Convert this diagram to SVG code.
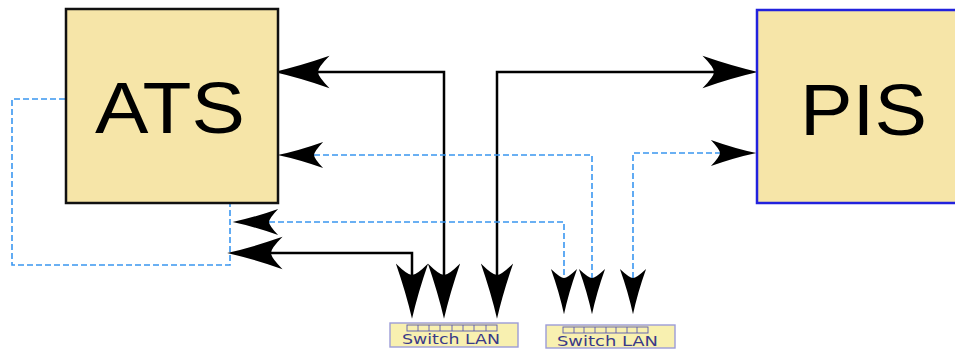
<svg xmlns="http://www.w3.org/2000/svg" width="955" height="349" viewBox="0 0 955 349">
<style>
.box{fill:#f6e5a8;stroke-width:2.5}
.big{font-family:"Liberation Sans",Arial,sans-serif;font-size:72px;fill:#000}
.blk{fill:none;stroke:#000;stroke-width:2.5}
.blu{fill:none;stroke:#3a96f0;stroke-width:1.6;stroke-dasharray:6,3}
.sw{fill:#f8f0b0;stroke:#9c9cd8;stroke-width:1.4}
.port{fill:#f8f0b0;stroke:#5a5ab0;stroke-width:0.9}
.swt{font-family:"DejaVu Sans",Verdana,sans-serif;font-size:14.5px;fill:#3a3a88}
</style>
<defs>
<marker id="ab" markerUnits="userSpaceOnUse" markerWidth="60" markerHeight="40" viewBox="-12 -16 52 32" refX="0" refY="0" orient="auto-start-reverse" overflow="visible">
<path d="M38,0 Q16,-5 -10,-14 Q0,-4 0,0 Q0,4 -10,14 Q16,5 38,0 Z" fill="#000"/>
</marker>
<marker id="as" markerUnits="userSpaceOnUse" markerWidth="50" markerHeight="30" viewBox="-10 -13 44 26" refX="0" refY="0" orient="auto-start-reverse" overflow="visible">
<path d="M32,0 Q13,-4 -8,-11.5 Q0,-3 0,0 Q0,3 -8,11.5 Q13,4 32,0 Z" fill="#000"/>
</marker>
</defs>
<rect width="955" height="349" fill="#fff"/>
<g id="connectors">
<path class="blu" d="M65,99 H12 V265 H230 V203"/>
<path class="blk" d="M318,72 H444 V275" marker-start="url(#ab)" marker-end="url(#ab)"/>
<path class="blk" d="M497,275 V72 H714" marker-start="url(#ab)" marker-end="url(#ab)"/>
<path class="blk" d="M271,253 H412 V275" marker-start="url(#ab)" marker-end="url(#ab)"/>
<path class="blu" d="M314,155 H592 V278" marker-start="url(#as)" marker-end="url(#as)"/>
<path class="blu" d="M269,222 H564 V278" marker-start="url(#as)" marker-end="url(#as)"/>
<path class="blu" d="M633,278 V153 H720" marker-start="url(#as)" marker-end="url(#as)"/>
</g>
<g id="ats">
<rect class="box" x="66" y="9" width="212" height="194" stroke="#111"/>
<text class="big" x="95" y="133" textLength="150" lengthAdjust="spacingAndGlyphs">ATS</text>
</g>
<g id="pis">
<rect class="box" x="757" y="10" width="212" height="193" stroke="#2222dd"/>
<text class="big" x="800" y="135" textLength="127" lengthAdjust="spacingAndGlyphs">PIS</text>
</g>
<g id="switch1">
<rect class="sw" x="390" y="323" width="128" height="24"/>
<g class="port">
<rect x="407" y="325" width="90" height="6"/>
<path d="M418,325V331M429,325V331M440,325V331M452,325V331M463,325V331M474,325V331M486,325V331"/>
</g>
<text class="swt" x="402" y="344" textLength="98" lengthAdjust="spacingAndGlyphs">Switch LAN</text>
</g>
<g id="switch2">
<rect class="sw" x="546" y="325" width="129" height="23"/>
<g class="port">
<rect x="563" y="327" width="85" height="6"/>
<path d="M574,327V333M584,327V333M595,327V333M606,327V333M616,327V333M627,327V333M637,327V333"/>
</g>
<text class="swt" x="557" y="346" textLength="101" lengthAdjust="spacingAndGlyphs">Switch LAN</text>
</g>
</svg>
